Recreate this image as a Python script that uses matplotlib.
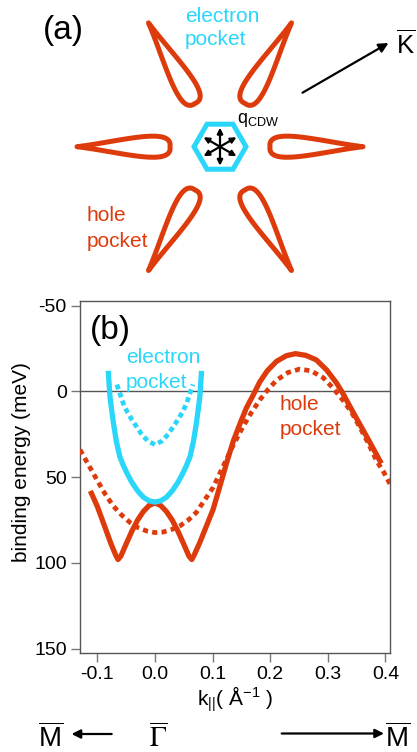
import numpy as np
import matplotlib
matplotlib.use("Agg")
import matplotlib.pyplot as plt
from matplotlib.patches import Polygon

plt.rcParams["font.family"] = ["Liberation Sans", "DejaVu Sans"]
plt.rcParams["mathtext.fontset"] = "custom"
plt.rcParams["mathtext.rm"] = "Liberation Sans"
plt.rcParams["mathtext.it"] = "Liberation Sans:italic"
plt.rcParams["axes.unicode_minus"] = False

RED = "#DE3B0C"
CYAN = "#2AD6FA"

# ---- panel (b) curves (k in 1/A, E in meV) ----
k_hole = [-0.112, -0.100, -0.088, -0.076, -0.068, -0.064, -0.059, -0.050, -0.040,
          -0.030, -0.020, -0.010, 0.000, 0.010, 0.020, 0.030, 0.040, 0.050, 0.059,
          0.064, 0.068, 0.078, 0.090, 0.101, 0.113, 0.125, 0.136, 0.148, 0.159,
          0.170, 0.182, 0.195, 0.211, 0.228, 0.244, 0.262, 0.280, 0.298, 0.315,
          0.326, 0.338, 0.352, 0.367, 0.380, 0.393]
e_hole = [58, 67, 78, 89, 95.5, 98, 96, 89, 81.5,
          75, 70, 66.5, 65, 66.5, 70, 75, 81.5, 89, 96,
          98, 95.5, 88, 78, 68.8, 55, 41, 29, 18.5, 9.5,
          2.5, -5.5, -12, -17.5, -20.8, -22, -21, -18.4, -12.5, -5,
          1, 8.5, 17, 26, 34, 42]

k_hole_cdw = [-0.130, -0.115, -0.101, -0.087, -0.072, -0.058, -0.043, -0.029, -0.014,
              0.000, 0.014, 0.029, 0.043, 0.058, 0.072, 0.087, 0.101, 0.118, 0.135,
              0.153, 0.168, 0.182, 0.196, 0.211, 0.231, 0.251, 0.271, 0.292, 0.309,
              0.326, 0.341, 0.355, 0.370, 0.384, 0.397, 0.408]
e_hole_cdw = [34, 43, 51.3, 59.5, 66.9, 72, 76.5, 79.5, 81.4,
              82.3, 82, 80.5, 78.5, 75, 70.5, 63, 56, 44, 32,
              20.5, 12, 5, -1, -6.5, -11, -13, -12, -8, -2,
              5, 12, 20.5, 30, 40, 47, 54]

k_elec = [-0.081, -0.078, -0.075, -0.072, -0.067, -0.061, -0.055, -0.048, -0.040,
          -0.030, -0.020, -0.010, 0.000, 0.010, 0.020, 0.030, 0.040, 0.048, 0.055,
          0.061, 0.067, 0.072, 0.075, 0.078, 0.081]
e_elec = [-12, 3, 11, 18.4, 29, 38, 43, 48, 53,
          58, 61.7, 63.8, 64.5, 63.8, 61.7, 58, 53, 48, 43,
          38, 29, 18.4, 11, 3, -12]

k_elec_cdw = [-0.066, -0.060, -0.055, -0.048, -0.040, -0.031, -0.023, -0.012, 0.000,
              0.012, 0.023, 0.031, 0.040, 0.048, 0.055, 0.060, 0.066]
e_elec_cdw = [-4, 2, 7, 12, 16.5, 21, 25, 29, 31,
              29, 25, 21, 16.5, 12, 7, 2, -4]

x_ticks = [-0.1, 0.0, 0.1, 0.2, 0.3, 0.4]
y_ticks = [-50, 0, 50, 100, 150]

W, H = 417, 752
fig = plt.figure(figsize=(W / 100, H / 100), dpi=100)

# ---- panel (b) ----
ax = fig.add_axes([80 / W, 1 - 653 / H, 310 / W, 352 / H])
ax.axhline(0, color="#555555", lw=1.0, zorder=1)
ax.plot(k_hole, e_hole, color=RED, lw=3.8, solid_capstyle="butt", zorder=3)
ax.plot(k_hole_cdw, e_hole_cdw, color=RED, lw=3.4, ls=(0, (1.1, 0.9)), zorder=3)
ax.plot(k_elec, e_elec, color=CYAN, lw=3.8, solid_capstyle="butt", zorder=4)
ax.plot(k_elec_cdw, e_elec_cdw, color=CYAN, lw=3.4, ls=(0, (1.05, 0.75)), zorder=4)
ax.set_xlim(-0.13, 0.408)
ax.set_ylim(152.5, -52.7)
ax.set_xticks(x_ticks)
ax.set_xticklabels(["%.1f" % v for v in x_ticks])
ax.set_yticks(y_ticks)
ax.tick_params(axis="both", direction="out", length=6.5, width=1.0, color="#777777",
               labelsize=14, pad=3)
for s in ax.spines.values():
    s.set_color("#555555")
    s.set_linewidth(1.0)
ax.set_ylabel("binding energy (meV)", fontsize=15)
ax.yaxis.set_label_coords(-0.158, 0.543)
ax.set_xlabel("k$_{||}$( Å$^{-1}$ )", fontsize=15, labelpad=1)

# ---- overlay in pixel coordinates for the schematic parts ----
ov = fig.add_axes([0, 0, 1, 1], zorder=5)
ov.set_xlim(0, W)
ov.set_ylim(H, 0)
ov.axis("off")
ov.patch.set_visible(False)

cx, cy = 220, 146.7

# hole pockets (teardrops)
def petal(angle, d0=50, L=93, h1=5, h2=21):
    t = np.linspace(0, 1, 60)
    P = np.array([[L, 0], [0.55 * L, h1], [-3, h2], [0, 0]], dtype=float)
    b = ((1 - t) ** 3)[:, None] * P[0] + (3 * (1 - t) ** 2 * t)[:, None] * P[1] \
        + (3 * (1 - t) * t ** 2)[:, None] * P[2] + (t ** 3)[:, None] * P[3]
    low = b[::-1].copy()
    low[:, 1] *= -1
    pts = np.vstack([b, low])
    u = pts[:, 0] + d0
    v = pts[:, 1]
    a = np.deg2rad(angle)
    x = cx + u * np.cos(a) - v * np.sin(a)
    y = cy + u * np.sin(a) + v * np.cos(a)
    return np.column_stack([x, y])

for ang in [0, 60, 120, 180, 240, 300]:
    ov.add_patch(Polygon(petal(ang), closed=True, fill=False, ec=RED, lw=3.6,
                         joinstyle="round"))

# electron pocket hexagon
th = np.deg2rad(np.arange(0, 360, 60))
ov.add_patch(Polygon(np.column_stack([cx + 26 * np.cos(th), cy + 26 * np.sin(th)]),
                     closed=True, fill=False, ec=CYAN, lw=3.6, joinstyle="miter"))

# q_CDW arrows
for ang in [90, 270, 30, 150, 210, 330]:
    a = np.deg2rad(ang)
    ov.annotate("", xy=(cx + 19 * np.cos(a), cy + 19 * np.sin(a)), xytext=(cx, cy),
                arrowprops=dict(arrowstyle="-|>", lw=1.6, color="k", mutation_scale=8,
                                shrinkA=0, shrinkB=0))

ov.text(43, 30, "(a)", fontsize=24, ha="left", va="center")
ov.text(185, 21.7, "electron", fontsize=15, color=CYAN, va="baseline")
ov.text(185, 45, "pocket", fontsize=15, color=CYAN, va="baseline")
ov.text(86.7, 221, "hole", fontsize=15, color=RED, va="baseline")
ov.text(86.7, 246.7, "pocket", fontsize=15, color=RED, va="baseline")
ov.text(237, 123, "q$_{\\mathrm{CDW}}$", fontsize=13, va="baseline")

ov.annotate("", xy=(388.5, 43), xytext=(302.5, 92.7),
            arrowprops=dict(arrowstyle="-|>", lw=1.6, color="k", mutation_scale=14,
                            shrinkA=0, shrinkB=0))
ov.text(396.5, 53.3, "$\\overline{\\mathrm{K}}$", fontsize=18.5, va="baseline")

# panel (b) labels
ov.text(90, 330, "(b)", fontsize=24, ha="left", va="center")
ov.text(126, 362.7, "electron", fontsize=15, color=CYAN, va="baseline")
ov.text(126, 388.3, "pocket", fontsize=15, color=CYAN, va="baseline")
ov.text(279.3, 410, "hole", fontsize=15, color=RED, va="baseline")
ov.text(279.3, 435, "pocket", fontsize=15, color=RED, va="baseline")

# bottom direction labels
ov.text(38, 746.7, "$\\overline{\\mathrm{M}}$", fontsize=20, va="baseline")
ov.annotate("", xy=(71.5, 734), xytext=(111.7, 734),
            arrowprops=dict(arrowstyle="-|>", lw=1.6, color="k", mutation_scale=13,
                            shrinkA=0, shrinkB=0))
ov.text(149, 746.7, "$\\overline{\\Gamma}$", fontsize=20, va="baseline",
        math_fontfamily="stix")
ov.annotate("", xy=(384, 733.5), xytext=(281.7, 733.5),
            arrowprops=dict(arrowstyle="-|>", lw=1.6, color="k", mutation_scale=13,
                            shrinkA=0, shrinkB=0))
ov.text(385, 746.7, "$\\overline{\\mathrm{M}}$", fontsize=20, va="baseline")

fig.savefig("out.png", dpi=100)
